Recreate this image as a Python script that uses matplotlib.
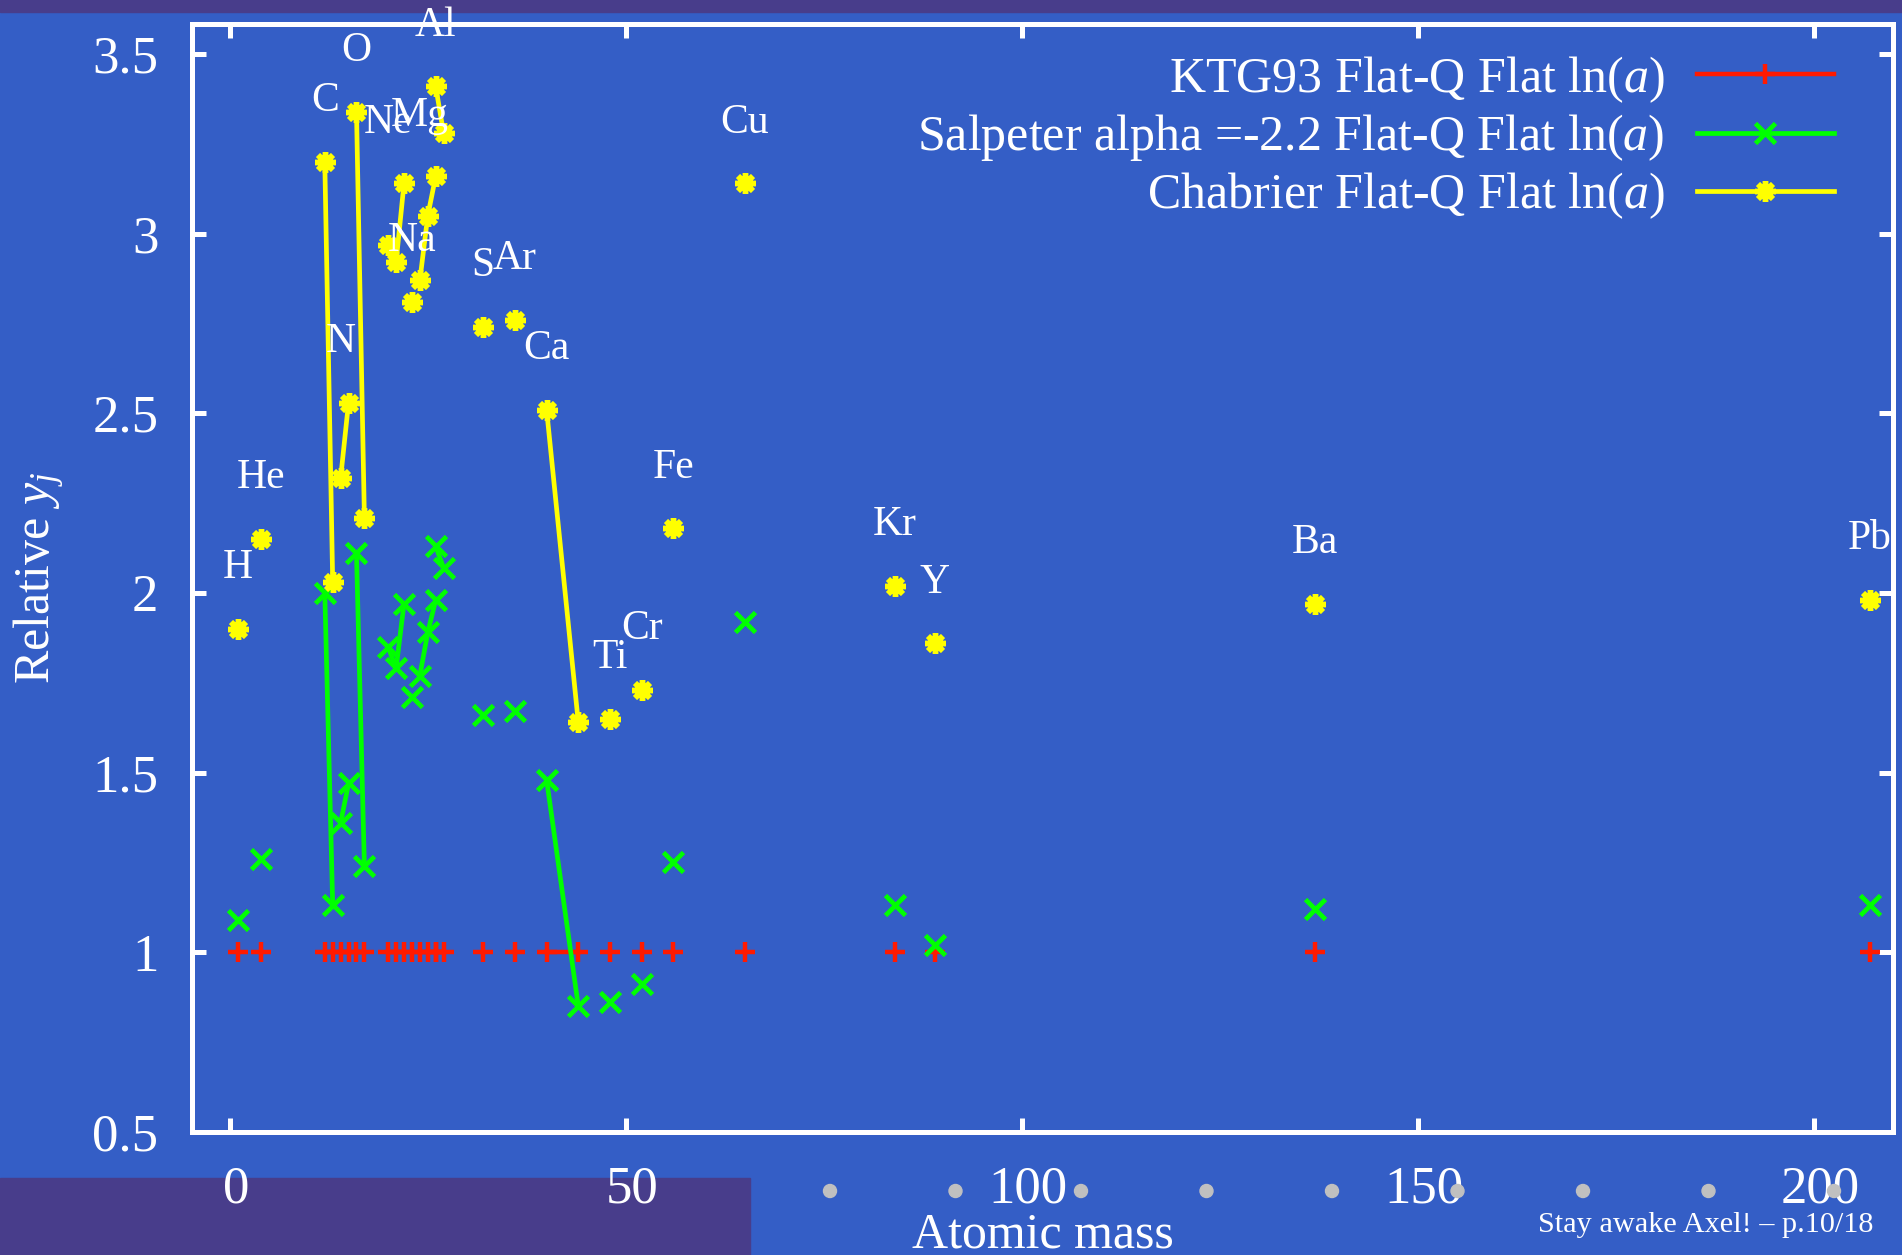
import matplotlib
matplotlib.use('Agg')
import matplotlib.pyplot as plt
from matplotlib.patches import Rectangle, Ellipse
from matplotlib.ticker import FuncFormatter
from matplotlib.transforms import ScaledTranslation
from itertools import groupby

# ---------------- data ----------------
elements = ['H', 'He', 'C', 'C', 'N', 'N', 'O', 'O', 'Ne', 'Ne', 'Ne', 'Na',
            'Mg', 'Mg', 'Mg', 'Al', 'Al', 'S', 'Ar', 'Ca', 'Ca', 'Ti', 'Cr',
            'Fe', 'Cu', 'Kr', 'Y', 'Ba', 'Pb']
mass = [1, 4, 12, 13, 14, 15, 16, 17, 20, 21, 22, 23, 24, 25, 26, 26, 27,
        32, 36, 40, 44, 48, 52, 56, 65, 84, 89, 137, 207]
ktg93 = [1.0, 1.0, 1.0, 1.0, 1.0, 1.0, 1.0, 1.0, 1.0, 1.0, 1.0, 1.0, 1.0,
         1.0, 1.0, 1.0, 1.0, 1.0, 1.0, 1.0, 1.0, 1.0, 1.0, 1.0, 1.0, 1.0,
         1.0, 1.0, 1.0]
salpeter = [1.09, 1.26, 2.00, 1.13, 1.36, 1.47, 2.11, 1.24, 1.85, 1.79, 1.97,
            1.71, 1.77, 1.89, 1.98, 2.13, 2.07, 1.66, 1.67, 1.48, 0.85, 0.86,
            0.91, 1.25, 1.92, 1.13, 1.02, 1.12, 1.13]
chabrier = [1.90, 2.15, 3.20, 2.03, 2.32, 2.53, 3.34, 2.21, 2.97, 2.92, 3.14,
            2.81, 2.87, 3.05, 3.16, 3.41, 3.28, 2.74, 2.76, 2.51, 1.64, 1.65,
            1.73, 2.18, 3.14, 2.02, 1.86, 1.97, 1.98]
series_labels = ['KTG93 Flat-Q Flat ln($a$)',
                 'Salpeter alpha =-2.2 Flat-Q Flat ln($a$)',
                 'Chabrier Flat-Q Flat ln($a$)']
xticks = [0, 50, 100, 150, 200]
yticks = [0.5, 1, 1.5, 2, 2.5, 3, 3.5]
footer = 'Stay awake Axel! \u2013 p.10/18'

# ---------------- style ----------------
BLUE = '#345EC6'
PURPLE = '#483D8B'
plt.rcParams['font.family'] = ['Liberation Serif', 'DejaVu Serif']
plt.rcParams['mathtext.fontset'] = 'custom'
plt.rcParams['mathtext.rm'] = 'Liberation Serif'
plt.rcParams['mathtext.it'] = 'Liberation Serif:italic'

W, H = 1902, 1255
fig = plt.figure(figsize=(W / 100, H / 100), dpi=100, facecolor=BLUE)

# slide decorations
fig.add_artist(Rectangle((0, 1 - 12 / H), 1, 12 / H, transform=fig.transFigure,
                         color=PURPLE, zorder=0))
fig.add_artist(Rectangle((0, 0), 750 / W, (H - 1178) / H, transform=fig.transFigure,
                         color=PURPLE, zorder=0))
for k in range(9):
    fig.add_artist(Ellipse(((830 + 125.5 * k) / W, 1 - 1191 / H), 13 / W, 13 / H,
                           transform=fig.transFigure, color='#C0C0C0', zorder=1))
fig.text(1873 / W, 1 - 1231.7 / H, footer, ha='right', va='baseline',
         fontsize=21.8, color='white')

L, R, T, B = 191.7, 1893.3, 24.0, 1131.7
ax = fig.add_axes([L / W, 1 - B / H, (R - L) / W, (B - T) / H])
ax.set_facecolor('none')
ax.set_xlim(-4.8, 210)
ax.set_ylim(0.5, 3.584)

styles = [
    dict(color='#FF1A00', marker='+', ms=14, mew=3.2, lw=3.2),
    dict(color='#00FF00', marker='x', ms=14, mew=3.4, lw=3.4),
    dict(color='#FFFF00', marker=(8, 2, 0), ms=15, mew=3.9, lw=3.4),
]
data = [ktg93, salpeter, chabrier]
handles = []
for si, (vals, st) in enumerate(zip(data, styles)):
    idx = list(range(len(mass)))
    first = True
    for el, grp in groupby(idx, key=lambda i: elements[i]):
        grp = list(grp)
        ln, = ax.plot([mass[i] for i in grp], [vals[i] for i in grp],
                      linestyle='-', zorder=3 + si, clip_on=False, **st)
        if first:
            handles.append(ln)
            first = False

# element labels above the highest (Chabrier) value of each element
for el, grp in groupby(range(len(mass)), key=lambda i: elements[i]):
    grp = list(grp)
    ymax = max(chabrier[i] for i in grp)
    ax.annotate(el, xy=(mass[grp[0]], ymax), xytext=(0, 36.5),
                textcoords='offset points', ha='center', va='baseline',
                fontsize=30, color='white', zorder=10)

for sp in ax.spines.values():
    sp.set_color('white')
    sp.set_linewidth(3.6)
ax.set_xticks(xticks)
ax.set_yticks(yticks)
ax.yaxis.set_major_formatter(FuncFormatter(lambda v, p: '%g' % v))
ax.tick_params(direction='in', length=10, width=3.6, colors='white',
               labelsize=38, top=True, right=True, pad=24)
shift = ScaledTranslation(6 / 100, 0, fig.dpi_scale_trans)
for lab in ax.get_xticklabels():
    lab.set_transform(lab.get_transform() + shift)

ax.set_xlabel('Atomic mass', fontsize=36, color='white', va='baseline')
ax.xaxis.set_label_coords(0.5, -(1247 - B) / (B - T))
ax.set_ylabel('Relative $y_j$', fontsize=36, color='white', va='baseline')
ax.yaxis.set_label_coords(-(L - 50) / (R - L), 0.5)

leg = ax.legend(handles, series_labels, loc='upper right',
                bbox_to_anchor=((1834 - L) / (R - L), 1 - (54 - T) / (B - T)),
                markerfirst=False, frameon=False, fontsize=36, handlelength=2.74,
                handletextpad=0.65, labelspacing=0.15, borderpad=0,
                borderaxespad=0, labelcolor='white', numpoints=1)
leg.set_zorder(20)

fig.savefig('out.png', dpi=100, facecolor=BLUE)
